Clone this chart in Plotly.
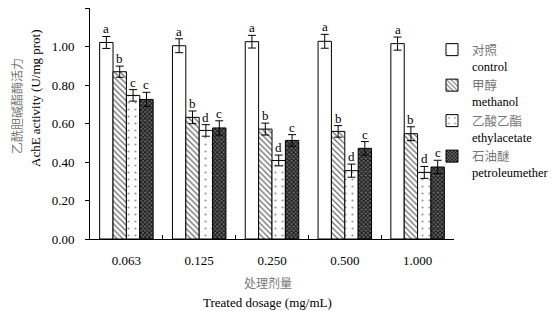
import plotly.graph_objects as go

categories = ["0.063", "0.125", "0.250", "0.500", "1.000"]
names_cn = ["对照", "甲醇", "乙酸乙酯", "石油醚"]
names_en = ["control", "methanol", "ethylacetate", "petroleumether"]
control = [1.021, 1.004, 1.025, 1.027, 1.015]
methanol = [0.869, 0.632, 0.571, 0.559, 0.547]
ethylacetate = [0.746, 0.564, 0.408, 0.355, 0.346]
petroleumether = [0.725, 0.577, 0.512, 0.471, 0.374]
err_control = [0.031, 0.036, 0.033, 0.036, 0.034]
err_methanol = [0.029, 0.033, 0.031, 0.030, 0.036]
err_ethyl = [0.030, 0.030, 0.028, 0.034, 0.031]
err_petrol = [0.037, 0.037, 0.030, 0.035, 0.035]
letters_control = ["a", "a", "a", "a", "a"]
letters_methanol = ["b", "b", "b", "b", "b"]
letters_ethyl = ["c", "d", "d", "d", "d"]
letters_petrol = ["c", "c", "c", "c", "c"]

values = [control, methanol, ethylacetate, petroleumether]
errors = [err_control, err_methanol, err_ethyl, err_petrol]
letters = [letters_control, letters_methanol, letters_ethyl, letters_petrol]

patterns = [
    dict(shape="", bgcolor="white"),
    dict(shape="\\", fgcolor="#666666", bgcolor="white", size=4, solidity=0.3),
    dict(shape=".", fgcolor="#999999", bgcolor="white", size=7, solidity=0.08),
    dict(shape="x", fgcolor="#111111", bgcolor="#666666", size=3, solidity=0.5),
]

SERIF = "Liberation Serif, Times New Roman, serif"
CJK = "Noto Sans CJK SC"
CN_COLOR = "#777777"
BARGAP = 0.265

fig = go.Figure()
for k, (cn, en, vals, errs, pat) in enumerate(zip(names_cn, names_en, values, errors, patterns)):
    fig.add_trace(go.Bar(
        x=categories, y=vals,
        name=f"<span style='color:{CN_COLOR};font-family:{CJK}'>{cn}</span><br>{en}",
        legendgroup=f"g{k}",
        marker=dict(color="white", line=dict(color="black", width=1), pattern=pat),
        error_y=dict(type="data", array=errs, color="black", thickness=1, width=4),
    ))

w = (1 - BARGAP) / len(values)
annotations = []
for j, (vals, errs, lets) in enumerate(zip(values, errors, letters)):
    for i in range(len(categories)):
        annotations.append(dict(
            x=i + (j - (len(values) - 1) / 2) * w, y=vals[i] + errs[i],
            xref="x", yref="y", text=lets[i], showarrow=False,
            yanchor="bottom", yshift=-2,
            font=dict(family=SERIF, size=13, color="black"),
        ))

# page has an 8px body margin: figure is offset by OFF pixels
OFF = 8
W, H = 556 - OFF, 311 - OFF
L, R, T, B = 90 - OFF, 102, 8 - OFF, 72
pw, ph = W - L - R, H - T - B

def px_x(x):
    return (x - OFF - L) / pw

def px_y(y):
    return (H - B - (y - OFF)) / ph

annotations += [
    dict(x=px_x(17), y=px_y(106), text="乙酰胆碱酯酶活力", textangle=-90,
         font=dict(family=CJK, size=12, color=CN_COLOR)),
    dict(x=px_x(35), y=px_y(98), text="AchE activity (U/mg prot)", textangle=-90,
         font=dict(family=SERIF, size=13, color="black")),
    dict(x=px_x(268), y=px_y(282), text="处理剂量",
         font=dict(family=CJK, size=12, color=CN_COLOR)),
    dict(x=px_x(267), y=px_y(302), text="Treated dosage (mg/mL)",
         font=dict(family=SERIF, size=13, color="black")),
]
for a in annotations[-4:]:
    a.update(xref="paper", yref="paper", showarrow=False, xanchor="center", yanchor="middle")

fig.update_layout(
    template="none",
    width=W, height=H,
    margin=dict(l=L, r=R, t=T, b=B, autoexpand=False),
    plot_bgcolor="white", paper_bgcolor="white",
    barmode="group", bargap=BARGAP, bargroupgap=0,
    font=dict(family=SERIF, size=13, color="black"),
    showlegend=True,
    legend=dict(
        x=px_x(432), y=px_y(35), xanchor="left", yanchor="top",
        font=dict(family=SERIF, size=12.5, color="black"),
        valign="top", itemwidth=30, tracegroupgap=7, traceorder="normal",
        bgcolor="rgba(0,0,0,0)", borderwidth=0,
    ),
    annotations=annotations,
    xaxis=dict(
        type="category", showline=True, linecolor="black", linewidth=1,
        ticks="inside", tickson="boundaries", ticklen=4, tickcolor="black",
        showgrid=False, ticklabelstandoff=9, zeroline=False,
        tickfont=dict(family=SERIF, size=13),
    ),
    yaxis=dict(
        range=[0, 1.2], dtick=0.2, tickformat=".2f", showline=True, linecolor="black",
        linewidth=1, ticks="outside", ticklen=4, tickcolor="black", showgrid=False,
        zeroline=False, ticklabelstandoff=8,
        tickfont=dict(family=SERIF, size=13),
    ),
)

fig.write_html("out.html")
